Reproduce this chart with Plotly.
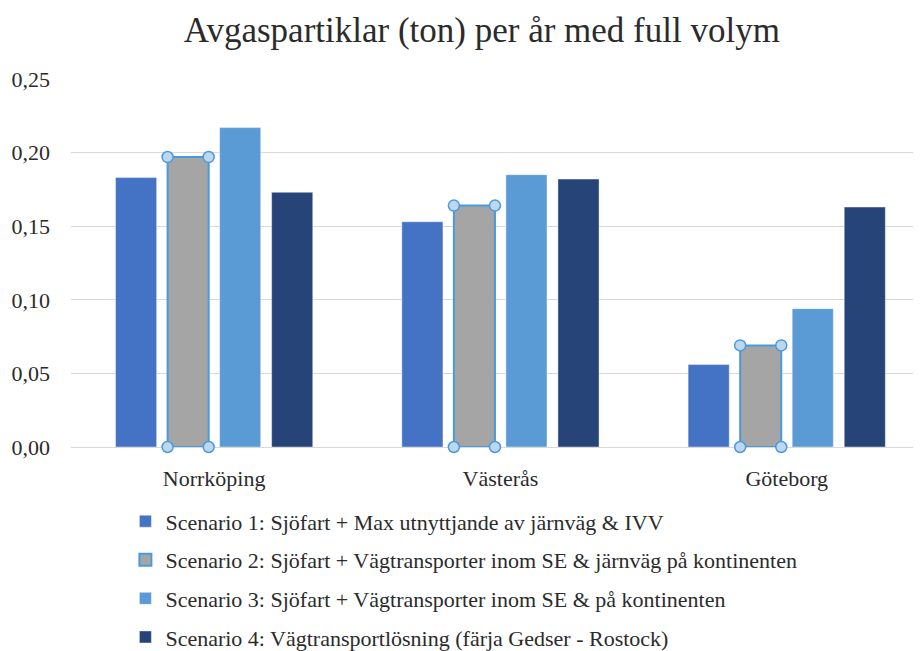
import plotly.graph_objects as go

title = "Avgaspartiklar (ton) per år med full volym"
categories = ["Norrköping", "Västerås", "Göteborg"]
series_names = [
    "Scenario 1: Sjöfart + Max utnyttjande av järnväg & IVV",
    "Scenario 2: Sjöfart + Vägtransporter inom SE & järnväg på kontinenten",
    "Scenario 3: Sjöfart + Vägtransporter inom SE & på kontinenten",
    "Scenario 4: Vägtransportlösning (färja Gedser - Rostock)",
]
scenario1 = [0.183, 0.153, 0.056]
scenario2 = [0.197, 0.164, 0.069]
scenario3 = [0.217, 0.185, 0.094]
scenario4 = [0.173, 0.182, 0.163]
series_values = [scenario1, scenario2, scenario3, scenario4]
colors = ["#4472C4", "#A5A5A5", "#5B9BD5", "#264478"]
y_ticks = [0, 0.05, 0.10, 0.15, 0.20, 0.25]

FONT = "'Liberation Serif', 'Times New Roman', 'DejaVu Serif', serif"
BARGAP = 0.273
BARGROUPGAP = 0.21
SEL_COLOR = "#4A9BDC"
TXT = "#2b2b2b"

xpos = list(range(len(categories)))

fig = go.Figure()
for i, (name, vals, col) in enumerate(zip(series_names, series_values, colors)):
    line = dict(width=0.6, color="rgba(255,255,255,0.7)")
    if i == 1:
        line = dict(width=2, color=SEL_COLOR)
    fig.add_trace(go.Bar(
        x=xpos, y=vals, name=name, marker=dict(color=col, line=line),
        legendgroup=f"g{i}", hoverinfo="y",
    ))

# selection handles on scenario 2 bars (derived from data and bar layout)
n = len(series_values)
slot = (1 - BARGAP) / n
center_off = (1 - (n - 1) / 2) * slot
half_w = slot * (1 - BARGROUPGAP) / 2
hx, hy = [], []
for xi, v in zip(xpos, scenario2):
    c = xi + center_off
    for dx in (-half_w, half_w):
        for yy in (0, v):
            hx.append(c + dx)
            hy.append(yy)
fig.add_trace(go.Scatter(
    x=hx, y=hy, mode="markers", showlegend=False, hoverinfo="skip",
    marker=dict(size=11, color="#BDD7EE", line=dict(width=1.5, color=SEL_COLOR)),
    cliponaxis=False,
))

fig.update_layout(
    width=913, height=643,
    paper_bgcolor="white", plot_bgcolor="white",
    barmode="group", bargap=BARGAP, bargroupgap=BARGROUPGAP,
    separators=", ",
    font=dict(family=FONT, color=TXT, size=22),
    title=dict(text=title, x=0.519, xanchor="center", y=0.966, yanchor="middle",
               font=dict(family=FONT, size=35, color=TXT)),
    margin=dict(l=63, r=0, t=71, b=204, autoexpand=False),
    xaxis=dict(
        range=[-0.5, 2.469], tickmode="array", tickvals=xpos, ticktext=categories,
        showgrid=False, zeroline=False, showline=False, ticks="",
        ticklabelstandoff=16,
        tickfont=dict(family=FONT, size=22, color=TXT),
    ),
    yaxis=dict(
        range=[0, 0.25], tickvals=y_ticks, tickformat=".2f",
        showgrid=True, gridcolor="#D9D9D9", gridwidth=1,
        zeroline=True, zerolinecolor="#D9D9D9", zerolinewidth=1,
        showline=False, ticks="", ticklabelstandoff=20,
        tickfont=dict(family=FONT, size=22, color=TXT),
    ),
    legend=dict(
        orientation="v", x=0.064, xanchor="left", y=-0.145, yanchor="top",
        font=dict(family=FONT, size=22, color=TXT),
        tracegroupgap=7, itemwidth=30, bgcolor="rgba(0,0,0,0)",
    ),
    showlegend=True,
)

fig.write_html("out.html")
